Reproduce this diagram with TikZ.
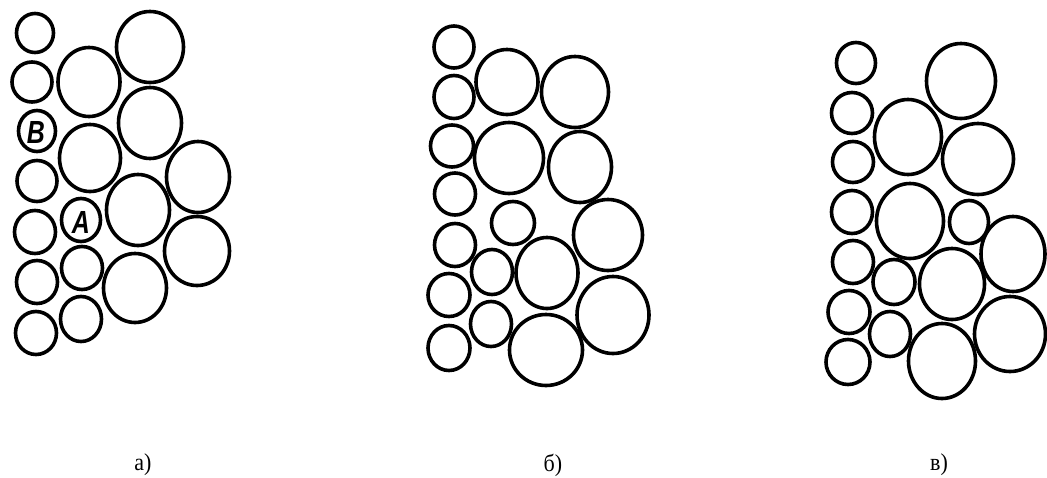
\documentclass[tikz,border=0pt]{standalone}
\usepackage{fontspec}
\setmainfont{Liberation Serif}
\newfontfamily\lettfont{Liberation Sans}
\begin{document}
\begin{tikzpicture}[x=1pt,y=-1pt,
  ball/.style={draw=black,line width=3.6pt},
  caption/.style={font=\fontsize{22}{22}\selectfont,inner sep=0pt,yscale=1.1},
  letter/.style={font=\lettfont\bfseries\itshape\fontsize{32}{32}\selectfont,inner sep=0pt,xscale=0.78}]
\useasboundingbox (0,0) rectangle (1047,477);
% panel a
\foreach \cx/\cy/\rx/\ry in {35/33/18.5/19.5, 32/82/20/20, 37/131/18.5/20.5, 37/181/20/20.5,
  35/232/20.5/21.5, 37/282/20.5/21.5, 36/333/20.5/21.5,
  89/82/31/34.5, 90/158/30.5/33.5, 81/220/19.5/21.5, 82/268/20.5/21.5, 81/319/20.5/22.5,
  150/47/33.5/35.5, 150/123/31.5/35.5, 138/210/31.5/35.5, 135/288/31.5/34.5,
  198/177/31.5/35.5, 197/251/32.5/34.5}
  {\draw[ball] (\cx,\cy) ellipse [x radius=\rx, y radius=\ry];}
% panel b
\foreach \cx/\cy/\rx/\ry in {454/47/20/21, 454/97/20/21.5, 452/146/21.5/21, 455/194/20.5/21,
  455/245/20.5/21.5, 449/295/21/21.5, 449/348/21/22.5,
  507/82/31/32.5, 509/158/34.5/35.5, 513/223/21.5/21.5, 492/272/20.5/22.5, 491/324/20.5/22.5,
  575/92/33.5/35.5, 580/167/31.5/35.5, 547/273/31/35.5, 546/350/36.5/35.5,
  608/235/34.5/35.5, 613/315/36/38.5}
  {\draw[ball] (\cx,\cy) ellipse [x radius=\rx, y radius=\ry];}
% panel c
\foreach \cx/\cy/\rx/\ry in {856/63/19.5/20.5, 852/113/20.5/20.5, 853/162/20.5/20.5, 852/212/20.5/21.5,
  853/262/20.5/21.5, 849/312/21/21.5, 848/362/22/22.5,
  908/137/33.5/37.5, 910/221/33.5/37.5, 894/282/21/22.5, 890/334/20.5/22.5,
  961/81/34.5/37.5, 978/159/35.5/35.5, 969/222/19.5/21.5, 952/284/32.5/35.5, 942/361/33.5/37.5,
  1013/254/32/37.5, 1010/334/35.5/37.5}
  {\draw[ball] (\cx,\cy) ellipse [x radius=\rx, y radius=\ry];}
% letters
\node[letter] (B) at (36,132) {B};
\node[letter] (A) at (81,222) {A};
% captions
\node[caption] (ca) at (143,465) {а)};
\node[caption] (cb) at (553,465) {б)};
\node[caption] (cc) at (939,465) {в)};
\end{tikzpicture}
\end{document}
